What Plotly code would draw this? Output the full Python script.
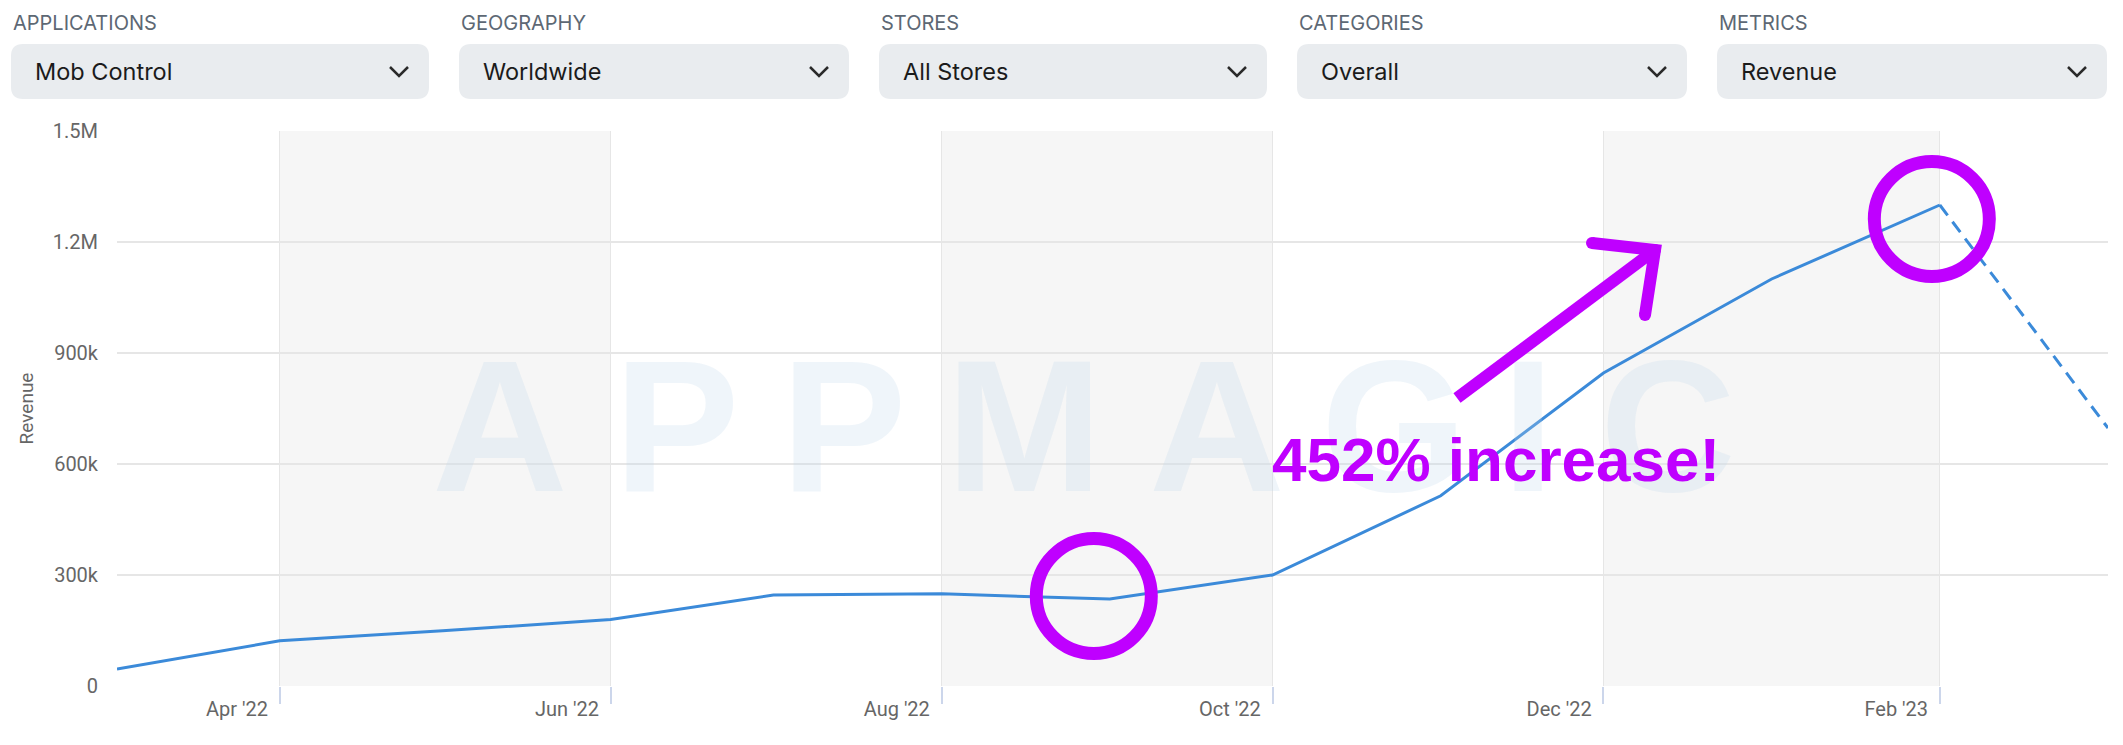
import plotly.graph_objects as go

# ---------------- data ----------------
dates = ["2022-03-02", "2022-04-01", "2022-05-01", "2022-06-01", "2022-07-01",
         "2022-08-01", "2022-09-01", "2022-10-01", "2022-11-01", "2022-12-01",
         "2023-01-01", "2023-02-01", "2023-03-04"]
revenue = [46000, 122000, 149000, 180000, 246000, 249000, 235000, 300000,
           514000, 846000, 1100000, 1300000, 697000]
complete_count = 12  # last point is an incomplete period (dashed)

x_tick_vals = ["2022-04-01", "2022-06-01", "2022-08-01", "2022-10-01",
               "2022-12-01", "2023-02-01"]
x_tick_text = ["Apr '22", "Jun '22", "Aug '22", "Oct '22", "Dec '22", "Feb '23"]
y_tick_vals = [0, 300000, 600000, 900000, 1200000, 1500000]
y_tick_text = ["0", "300k", "600k", "900k", "1.2M", "1.5M"]
bands = [("2022-04-01", "2022-06-01"), ("2022-08-01", "2022-10-01"),
         ("2022-12-01", "2023-02-01")]

filter_labels = ["APPLICATIONS", "GEOGRAPHY", "STORES", "CATEGORIES", "METRICS"]
filter_values = ["Mob Control", "Worldwide", "All Stores", "Overall", "Revenue"]

watermark_letters = ["A", "P", "P", "M", "A", "G", "I", "C"]
callout_text = "452% increase!"
highlight_idx = [6, 11]  # Sep '22 and Feb '23

# ---------------- layout geometry (page pixels) ----------------
PAGE_W, PAGE_H = 2123, 745
ORG = 8  # browser body margin: figure starts at (8, 8)
W, H = PAGE_W - ORG, PAGE_H - ORG
ML, MR, MT, MB = 117, 2108, 131, 686
PW, PH = MR - ML, MB - MT


def px(x):
    return (x - ML) / PW


def py(y):
    return (MB - y) / PH


LINE = "#3b8ad9"
MAGENTA = "#bf00ff"

fig = go.Figure()
fig.add_trace(go.Scatter(
    x=dates[:complete_count], y=revenue[:complete_count], mode="lines",
    line=dict(color=LINE, width=3), hoverinfo="skip", showlegend=False))
fig.add_trace(go.Scatter(
    x=dates[complete_count - 1:], y=revenue[complete_count - 1:], mode="lines",
    line=dict(color=LINE, width=3, dash="13px,8px"), hoverinfo="skip",
    showlegend=False))

shapes = []
for a, b in bands:
    shapes.append(dict(type="rect", xref="x", yref="paper", x0=a, x1=b, y0=0, y1=1,
                       fillcolor="#f6f6f6", line=dict(width=0), layer="below"))


def rounded(x0, y0, x1, y1, r):
    pts = [
        ("M", [(x0 + r, y0)]), ("L", [(x1 - r, y0)]), ("Q", [(x1, y0), (x1, y0 + r)]),
        ("L", [(x1, y1 - r)]), ("Q", [(x1, y1), (x1 - r, y1)]), ("L", [(x0 + r, y1)]),
        ("Q", [(x0, y1), (x0, y1 - r)]), ("L", [(x0, y0 + r)]),
        ("Q", [(x0, y0), (x0 + r, y0)]),
    ]
    s = ""
    for cmd, ps in pts:
        s += cmd + " " + " ".join(f"{px(a):.5f},{py(b):.5f}" for a, b in ps) + " "
    return s + "Z"


annotations = []
box_lefts = [11, 459, 879, 1297, 1717]
box_rights = [429, 849, 1267, 1687, 2107]
for lab, val, l, r in zip(filter_labels, filter_values, box_lefts, box_rights):
    shapes.append(dict(type="path", xref="paper", yref="paper",
                       path=rounded(l, 44, r, 99, 12),
                       fillcolor="#e9ecef", line=dict(width=0)))
    cx = r - 30
    shapes.append(dict(type="path", xref="paper", yref="paper",
                       path=f"M {px(cx-9):.5f},{py(67):.5f} L {px(cx):.5f},{py(76):.5f} L {px(cx+9):.5f},{py(67):.5f}",
                       line=dict(color="#2a2a2a", width=2.5)))
    annotations.append(dict(xref="paper", yref="paper", x=px(l), y=py(23),
                            xanchor="left", yanchor="middle", text=lab, showarrow=False,
                            font=dict(family="Inter", size=20, color="#5d6874")))
    annotations.append(dict(xref="paper", yref="paper", x=px(l + 22), y=py(71),
                            xanchor="left", yanchor="middle", text=val, showarrow=False,
                            font=dict(family="Inter", size=23.5, color="#1b1b1b")))

# watermark
wm_centers = [500, 676, 843, 1024, 1217, 1394, 1528, 1668]
for ch, cx in zip(watermark_letters, wm_centers):
    annotations.append(dict(xref="paper", yref="paper", x=px(cx), y=py(426),
                            xanchor="center", yanchor="middle", text=f"<b>{ch}</b>",
                            showarrow=False,
                            font=dict(family="Liberation Sans", size=188,
                                      color="rgba(190,215,235,0.25)")))

# highlight circles around Sep '22 and Feb '23
offsets = [(-16, 3), (-8, -14)]
for idx, (dx, dy) in zip(highlight_idx, offsets):
    rr = 57.5
    shapes.append(dict(type="circle", xref="x", yref="y", xsizemode="pixel",
                       ysizemode="pixel", xanchor=dates[idx], yanchor=revenue[idx],
                       x0=dx - rr, x1=dx + rr, y0=dy - rr, y1=dy + rr,
                       line=dict(color=MAGENTA, width=13)))


# arrow
def P(x, y):
    return f"{px(x):.5f},{py(y):.5f}"


shapes.append(dict(type="path", xref="paper", yref="paper",
                   path=f"M {P(1457,398)} L {P(1655,250)}",
                   line=dict(color=MAGENTA, width=12)))
shapes.append(dict(type="path", xref="paper", yref="paper",
                   path=f"M {P(1592,243)} L {P(1655,250)} L {P(1645,315)}",
                   line=dict(color=MAGENTA, width=12)))
# rounded ends of the arrow head
for (ex, ey) in [(1592, 243), (1645, 315), (1655, 250)]:
    shapes.append(dict(type="circle", xref="paper", yref="paper",
                       x0=px(ex - 6), x1=px(ex + 6), y0=py(ey + 6), y1=py(ey - 6),
                       fillcolor=MAGENTA, line=dict(width=0)))

annotations.append(dict(xref="paper", yref="paper", x=px(1496), y=py(459),
                        xanchor="center", yanchor="middle",
                        text=f"<b>{callout_text}</b>", showarrow=False,
                        font=dict(family="Liberation Sans", size=62, color=MAGENTA)))

fig.update_layout(
    width=W, height=H,
    margin=dict(l=ML - ORG, r=PAGE_W - MR, t=MT - ORG, b=PAGE_H - MB, pad=0),
    paper_bgcolor="white", plot_bgcolor="white",
    shapes=shapes, annotations=annotations, showlegend=False,
    xaxis=dict(type="date", range=[dates[0], dates[-1]],
               tickvals=x_tick_vals, ticktext=x_tick_text,
               showgrid=True, gridcolor="#e6e6e6", gridwidth=1,
               ticks="outside", ticklen=17, tickcolor="#ccd6eb", tickwidth=1.5,
               ticklabelposition="outside left", ticklabelshift=-11,
               ticklabelstandoff=5,
               tickfont=dict(family="Roboto", size=20, color="#666666"),
               showline=False, zeroline=False, fixedrange=True, automargin=False),
    yaxis=dict(range=[0, 1500000], tickvals=y_tick_vals, ticktext=y_tick_text,
               showgrid=True, gridcolor="#e6e6e6", gridwidth=1.5,
               ticks="outside", ticklen=14, tickcolor="rgba(0,0,0,0)",
               tickfont=dict(family="Roboto", size=20, color="#666666"),
               title=dict(text="Revenue", standoff=14,
                          font=dict(family="Roboto", size=19, color="#666666")),
               zeroline=False, showline=False, fixedrange=True, automargin=False),
)

fig.write_html("out.html")
